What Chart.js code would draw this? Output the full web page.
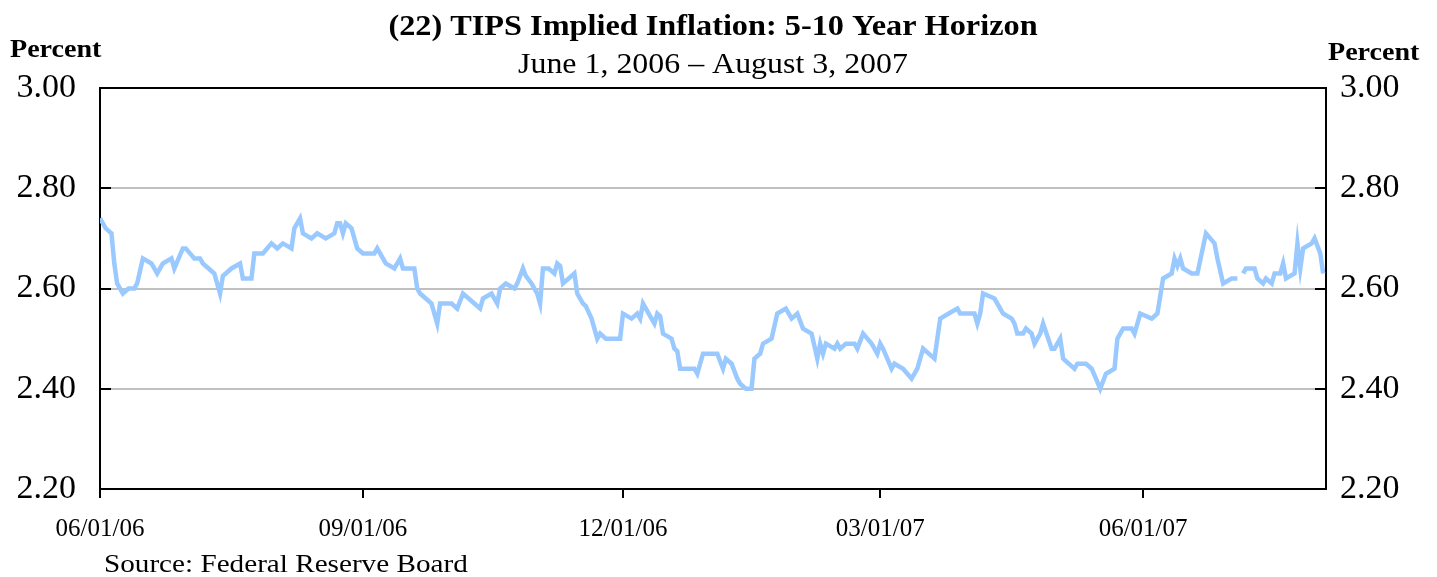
<!DOCTYPE html>
<html lang="en">
<head>
    <meta charset="UTF-8">
    <title>TIPS Implied Inflation: 5-10 Year Horizon</title>
    <style>
        body { margin: 0; background: #fff; }
        #wrap { width: 1437px; height: 577px; }
    </style>
</head>
<body>
    <div id="wrap"><canvas id="myChart"></canvas></div>

    <script src="https://cdn.jsdelivr.net/npm/chart.js@4.4.0/dist/chart.umd.min.js"></script>
    <script>
        // daily readings (null = missing day)
        var dates = [
            '2006-06-01','2006-06-03','2006-06-05','2006-06-06','2006-06-07','2006-06-09','2006-06-11','2006-06-13','2006-06-14','2006-06-16',
            '2006-06-19','2006-06-21','2006-06-23','2006-06-26','2006-06-27','2006-06-30','2006-07-01','2006-07-04','2006-07-06','2006-07-07',
            '2006-07-09','2006-07-11','2006-07-13','2006-07-14','2006-07-17','2006-07-20','2006-07-21','2006-07-24','2006-07-25','2006-07-28',
            '2006-07-31','2006-08-02','2006-08-04','2006-08-07','2006-08-08','2006-08-10','2006-08-11','2006-08-14','2006-08-16','2006-08-19',
            '2006-08-22','2006-08-23','2006-08-24','2006-08-25','2006-08-26','2006-08-28','2006-08-30','2006-09-01','2006-09-05','2006-09-06',
            '2006-09-09','2006-09-12','2006-09-14','2006-09-15','2006-09-19','2006-09-20','2006-09-21','2006-09-23','2006-09-25','2006-09-26',
            '2006-09-27','2006-09-28','2006-10-02','2006-10-04','2006-10-06','2006-10-10','2006-10-12','2006-10-13','2006-10-16','2006-10-18',
            '2006-10-19','2006-10-21','2006-10-24','2006-10-25','2006-10-27','2006-10-28','2006-10-30','2006-11-01','2006-11-02','2006-11-03',
            '2006-11-05','2006-11-07','2006-11-08','2006-11-09','2006-11-10','2006-11-14','2006-11-15','2006-11-17','2006-11-18','2006-11-20',
            '2006-11-22','2006-11-23','2006-11-25','2006-11-30','2006-12-01','2006-12-04','2006-12-06','2006-12-07','2006-12-08','2006-12-11',
            '2006-12-12','2006-12-13','2006-12-14','2006-12-15','2006-12-18','2006-12-19','2006-12-20','2006-12-21','2006-12-26','2006-12-27',
            '2006-12-29','2007-01-03','2007-01-05','2007-01-06','2007-01-08','2007-01-10','2007-01-11','2007-01-13','2007-01-15','2007-01-16',
            '2007-01-18','2007-01-19','2007-01-22','2007-01-24','2007-01-27','2007-01-29','2007-01-31','2007-02-02','2007-02-05','2007-02-07',
            '2007-02-08','2007-02-09','2007-02-10','2007-02-13','2007-02-14','2007-02-15','2007-02-17','2007-02-20','2007-02-21','2007-02-23',
            '2007-02-26','2007-02-28','2007-03-01','2007-03-02','2007-03-05','2007-03-06','2007-03-09','2007-03-12','2007-03-14','2007-03-15',
            '2007-03-16','2007-03-18','2007-03-20','2007-03-22','2007-03-25','2007-03-28','2007-03-29','2007-04-03','2007-04-04','2007-04-05',
            '2007-04-06','2007-04-10','2007-04-12','2007-04-13','2007-04-16','2007-04-17','2007-04-18','2007-04-20','2007-04-21','2007-04-23',
            '2007-04-24','2007-04-26','2007-04-27','2007-04-30','2007-05-01','2007-05-03','2007-05-04','2007-05-08','2007-05-09','2007-05-12',
            '2007-05-14','2007-05-17','2007-05-19','2007-05-22','2007-05-23','2007-05-25','2007-05-28','2007-05-29','2007-05-31','2007-06-04',
            '2007-06-06','2007-06-08','2007-06-11','2007-06-12','2007-06-13','2007-06-14','2007-06-15','2007-06-18','2007-06-20','2007-06-23',
            '2007-06-26','2007-06-27','2007-06-29','2007-07-02','2007-07-04','2007-07-05','2007-07-06','2007-07-07','2007-07-10','2007-07-11',
            '2007-07-13','2007-07-14','2007-07-16','2007-07-17','2007-07-19','2007-07-20','2007-07-21','2007-07-24','2007-07-25','2007-07-26',
            '2007-07-27','2007-07-30','2007-07-31','2007-08-02','2007-08-03'
        ];
        var values = [
            2.74, 2.72, 2.71, 2.65, 2.61, 2.59, 2.60, 2.60, 2.61, 2.66,
            2.65, 2.63, 2.65, 2.66, 2.64, 2.68, 2.68, 2.66, 2.66, 2.65,
            2.64, 2.63, 2.59, 2.625, 2.64, 2.65, 2.62, 2.62, 2.67, 2.67,
            2.69, 2.68, 2.69, 2.68, 2.72, 2.74, 2.71, 2.70, 2.71, 2.70,
            2.71, 2.73, 2.73, 2.71, 2.73, 2.72, 2.68, 2.67, 2.67, 2.68,
            2.65, 2.64, 2.66, 2.64, 2.64, 2.60, 2.59, 2.58, 2.57, 2.55,
            2.53, 2.57, 2.57, 2.56, 2.59, 2.57, 2.56, 2.58, 2.59, 2.57,
            2.60, 2.61, 2.60, 2.61, 2.64, 2.625, 2.61, 2.59, 2.57, 2.64,
            2.64, 2.63, 2.65, 2.645, 2.61, 2.63, 2.59, 2.57, 2.565, 2.54,
            2.50, 2.51, 2.50, 2.50, 2.55, 2.54, 2.55, 2.54, 2.57, 2.54,
            2.53, 2.55, 2.545, 2.51, 2.50, 2.48, 2.475, 2.44, 2.44, 2.43,
            2.47, 2.47, 2.44, 2.46, 2.45, 2.42, 2.41, 2.40, 2.40, 2.46,
            2.47, 2.49, 2.50, 2.55, 2.56, 2.54, 2.55, 2.52, 2.51, 2.46,
            2.49, 2.47, 2.49, 2.48, 2.49, 2.48, 2.49, 2.49, 2.48, 2.51,
            2.49, 2.47, 2.49, 2.48, 2.44, 2.45, 2.44, 2.42, 2.44, 2.46,
            2.48, 2.47, 2.46, 2.54, 2.55, 2.56, 2.55, 2.55, 2.53, 2.55,
            2.59, 2.58, 2.56, 2.55, 2.54, 2.53, 2.51, 2.51, 2.52, 2.51,
            2.49, 2.51, 2.53, 2.48, 2.48, 2.50, 2.46, 2.44, 2.45, 2.45,
            2.44, 2.40, 2.43, 2.44, 2.50, 2.52, 2.52, 2.51, 2.55, 2.54,
            2.55, 2.62, 2.63, 2.66, 2.645, 2.66, 2.64, 2.63, 2.63, 2.71,
            2.69, 2.66, 2.61, 2.62, 2.62, null, 2.63, 2.64, 2.64, 2.62,
            2.61, 2.62, 2.61, 2.63, 2.63, 2.65, 2.62, 2.63, 2.69, 2.64,
            2.68, 2.69, 2.70, 2.67, 2.63
        ];

        var startDate = '2006-06-01';
        var endDate = '2007-08-04';
        var tickDates = ['2006-06-01', '2006-09-01', '2006-12-01', '2007-03-01', '2007-06-01'];
        var tickLabels = ['06/01/06', '09/01/06', '12/01/06', '03/01/07', '06/01/07'];
        var yMin = 2.2, yMax = 3.0, yStep = 0.2;

        var serif = "'Liberation Serif', 'Times New Roman', serif";

        function dayOffset(s) {
            var p = s.split('-').map(Number);
            var p0 = startDate.split('-').map(Number);
            return (Date.UTC(p[0], p[1] - 1, p[2]) - Date.UTC(p0[0], p0[1] - 1, p0[2])) / 86400000;
        }

        var points = dates.map(function (d, i) {
            return { x: dayOffset(d), y: values[i] };
        });

        // the original type is a little wider than Times, so stretch it sideways
        function wideText(ctx, text, x, y, font, sx, align) {
            ctx.save();
            ctx.font = font;
            ctx.textAlign = align;
            ctx.textBaseline = 'alphabetic';
            ctx.translate(x, y);
            ctx.scale(sx, 1);
            ctx.fillText(text, 0, 0);
            ctx.restore();
        }

        // titles, frame top, inside ticks and source note
        var decorations = {
            id: 'decorations',
            afterDraw: function (chart) {
                var ctx = chart.ctx;
                var a = chart.chartArea;
                var y = chart.scales.y;
                ctx.save();

                ctx.strokeStyle = '#000';
                ctx.lineWidth = 2;
                ctx.beginPath();
                ctx.moveTo(a.left - 1, a.top);
                ctx.lineTo(a.right + 1, a.top);
                ctx.stroke();

                y.ticks.forEach(function (t) {
                    var py = Math.round(y.getPixelForValue(t.value));
                    ctx.beginPath();
                    ctx.moveTo(a.left, py);
                    ctx.lineTo(a.left + 11, py);
                    ctx.moveTo(a.right, py);
                    ctx.lineTo(a.right - 11, py);
                    ctx.stroke();
                });

                ctx.fillStyle = '#000';
                wideText(ctx, '(22) TIPS Implied Inflation: 5-10 Year Horizon', 713, 35, 'bold 30px ' + serif, 1.076, 'center');
                wideText(ctx, 'June 1, 2006 \u2013 August 3, 2007', 713, 73, '29px ' + serif, 1.1, 'center');
                wideText(ctx, 'Percent', 10, 57, 'bold 26px ' + serif, 1.08, 'left');
                wideText(ctx, 'Percent', 1328, 60, 'bold 26px ' + serif, 1.08, 'left');
                wideText(ctx, 'Source: Federal Reserve Board', 104, 572, '25px ' + serif, 1.167, 'left');
                ctx.restore();
            }
        };

        var yAxis = function (pos, width, pad) {
            return {
                position: pos,
                min: yMin,
                max: yMax,
                afterFit: function (scale) { scale.width = width; },
                afterBuildTicks: function (scale) {
                    var t = [];
                    for (var v = yMin; v <= yMax + 1e-9; v += yStep) t.push({ value: Math.round(v * 100) / 100 });
                    scale.ticks = t;
                },
                border: { display: true, color: '#000', width: 2 },
                grid: { color: '#c0c0c0', lineWidth: 2, drawTicks: false },
                ticks: {
                    padding: pad,
                    color: '#000',
                    font: { family: serif, size: 34 },
                    callback: function (v) { return Number(v).toFixed(2); }
                }
            };
        };

        function createChart() {
            var ctx = document.getElementById('myChart').getContext('2d');
            new Chart(ctx, {
                type: 'line',
                data: {
                    datasets: [{
                        data: points,
                        borderColor: '#99c9ff',
                        borderWidth: 4.5,
                        pointRadius: 0,
                        tension: 0,
                        spanGaps: false,
                        yAxisID: 'y'
                    }]
                },
                options: {
                    responsive: true,
                    maintainAspectRatio: false,
                    animation: false,
                    layout: { padding: { top: 88, left: 0, right: 0, bottom: 0 } },
                    plugins: { legend: { display: false }, tooltip: { enabled: false } },
                    scales: {
                        x: {
                            type: 'linear',
                            min: 0,
                            max: dayOffset(endDate),
                            afterFit: function (scale) { scale.height = 88; },
                            afterBuildTicks: function (scale) {
                                scale.ticks = tickDates.map(function (d) { return { value: dayOffset(d) }; });
                            },
                            border: { display: true, color: '#000', width: 2 },
                            grid: { drawOnChartArea: false, color: '#000', lineWidth: 2, tickLength: 9 },
                            ticks: {
                                padding: 16,
                                maxRotation: 0,
                                autoSkip: false,
                                color: '#000',
                                font: { family: serif, size: 25 },
                                callback: function (v, i) { return tickLabels[i]; }
                            }
                        },
                        y: yAxis('left', 100, 24),
                        y2: yAxis('right', 111, 14)
                    }
                },
                plugins: [decorations]
            });
        }
        createChart();
    </script>
</body>
</html>
